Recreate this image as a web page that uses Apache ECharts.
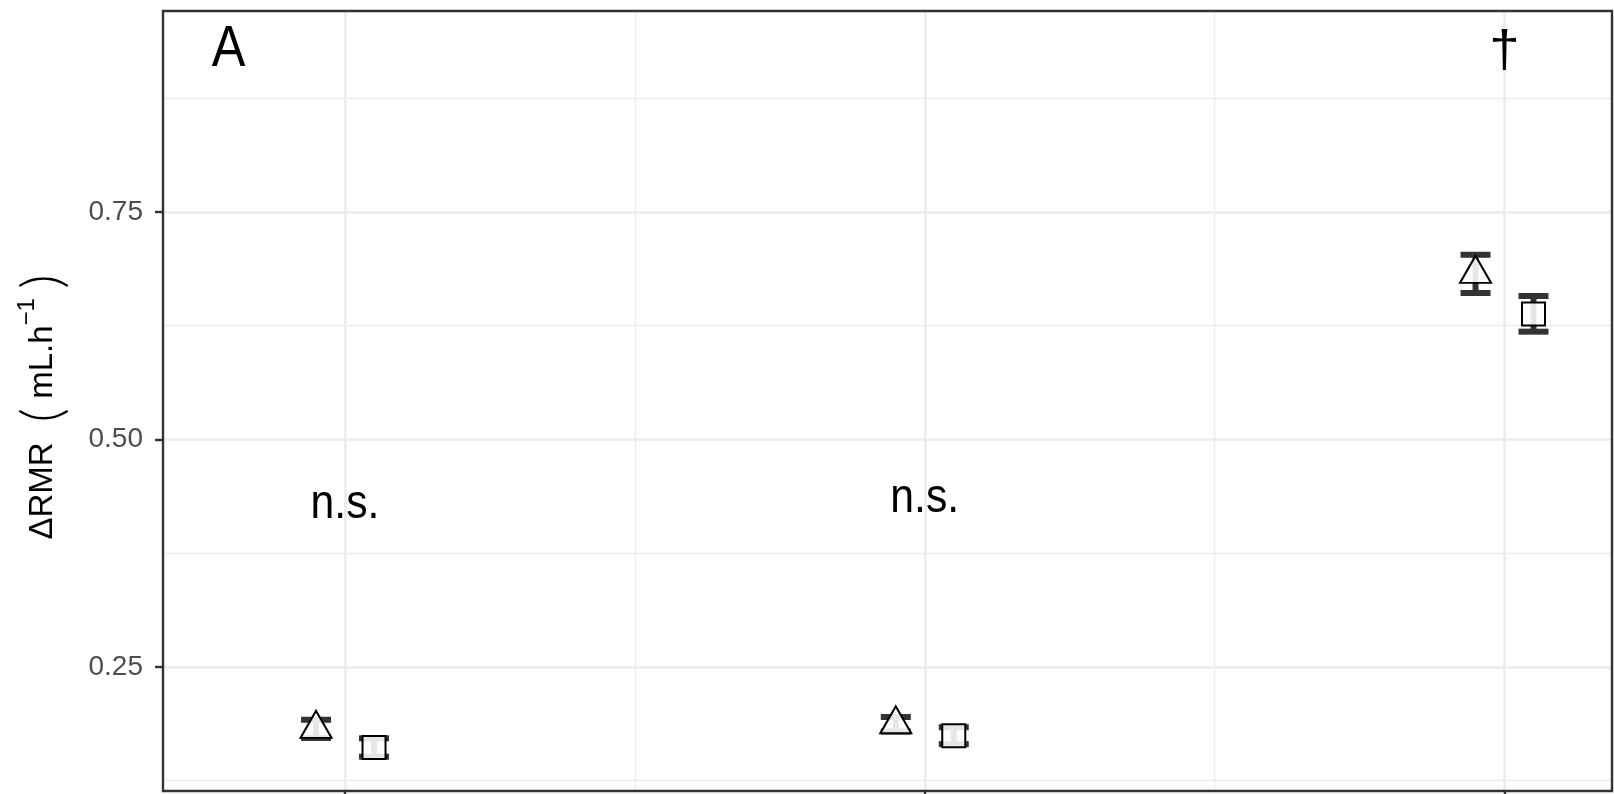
<!DOCTYPE html>
<html>
<head>
<meta charset="utf-8">
<script src="https://cdn.jsdelivr.net/npm/echarts@6/dist/echarts.min.js"></script>
<style>
  html, body { margin: 0; padding: 0; background: #ffffff; }
  #chart { width: 1614px; height: 794px; }
</style>
</head>
<body>
<div id="chart"></div>
<script>
// ---- data ----
const categories = ['1', '2', '3'];
const xPositions = [1, 2, 3];
// triangle group
const triMean  = [0.182, 0.187, 0.682];
const triLower = [0.172, 0.179, 0.661];
const triUpper = [0.192, 0.195, 0.703];
// square group
const sqMean   = [0.1615, 0.1745, 0.638];
const sqLower  = [0.1514, 0.1652, 0.6185];
const sqUpper  = [0.1716, 0.1838, 0.6577];
// axis breaks / labels
const yTickValues  = [0.25, 0.5, 0.75];
const yTickLabels  = ['0.25', '0.50', '0.75'];
const yMinorValues = [0.125, 0.375, 0.625, 0.875];
const xTickValues  = [1, 2, 3];
const xMinorValues = [1.5, 2.5];
const yRange = [0.1137, 0.9709];
const xRange = [0.686, 3.1854];
// annotations
const annoLabels = ['n.s.', 'n.s.', '\u2020'];
const annoX      = [1, 2, 3];
const annoY      = [0.4285, 0.435, 0.9255];
const panelTag   = 'A';
const panelTagX  = 0.799;
const panelTagY  = 0.9277;

// ---- chart ----
const FONT = 'Liberation Sans, Arial, Helvetica, sans-serif';
const DODGE = 0.05;
const chart = echarts.init(document.getElementById('chart'), null, { renderer: 'canvas' });

function errData(mean, lo, hi, off) {
  return xPositions.map((x, i) => [x + off, mean[i], lo[i], hi[i]]);
}
function ptData(mean, off) {
  return xPositions.map((x, i) => [x + off, mean[i]]);
}

function renderErr(params, api) {
  const x = api.value(0);
  const pLo = api.coord([x, api.value(2)]);
  const pHi = api.coord([x, api.value(3)]);
  const hw = 15;
  const st = { stroke: '#333333', lineWidth: 6, lineCap: 'butt' };
  return {
    type: 'group',
    children: [
      { type: 'line', shape: { x1: pLo[0], y1: pLo[1], x2: pHi[0], y2: pHi[1] }, style: st },
      { type: 'line', shape: { x1: pHi[0] - hw, y1: pHi[1], x2: pHi[0] + hw, y2: pHi[1] }, style: st },
      { type: 'line', shape: { x1: pLo[0] - hw, y1: pLo[1], x2: pLo[0] + hw, y2: pLo[1] }, style: st }
    ]
  };
}

// [x, y, text, fontSize, scaleX]
const annoData = annoLabels.map((t, i) => [annoX[i], annoY[i], t, t === '\u2020' ? 52 : 48, t === '\u2020' ? 1.05 : 0.89]);
annoData.push([panelTagX, panelTagY, panelTag, 58, 0.87]);

function renderText(params, api) {
  const p = api.coord([api.value(0), api.value(1)]);
  const d = annoData[params.dataIndex];
  return {
    type: 'text',
    x: p[0], y: p[1],
    scaleX: d[4],
    style: {
      text: d[2], fontSize: d[3], fontFamily: FONT, fill: '#000000',
      align: 'center', verticalAlign: 'middle'
    }
  };
}

const option = {
  animation: false,
  backgroundColor: '#ffffff',
  grid: {
    left: 163, right: 2, top: 11, bottom: 3,
    show: true, z: 3, borderColor: '#333333', borderWidth: 2.4,
    backgroundColor: 'transparent', containLabel: false
  },
  xAxis: [
    {
      type: 'value', min: xRange[0], max: xRange[1], position: 'bottom',
      axisLine: { show: false },
      axisTick: { show: true, length: 8, customValues: xTickValues, lineStyle: { color: '#333333', width: 2.4 } },
      axisLabel: { show: false, customValues: xTickValues },
      splitLine: { show: true, lineStyle: { color: '#EBEBEB', width: 2.6 } }
    },
    {
      type: 'value', min: xRange[0], max: xRange[1], position: 'top',
      axisLine: { show: false },
      axisTick: { show: false, customValues: xMinorValues },
      axisLabel: { show: false, customValues: xMinorValues },
      splitLine: { show: true, lineStyle: { color: '#EBEBEB', width: 1.3 } }
    }
  ],
  yAxis: [
    {
      type: 'value', min: yRange[0], max: yRange[1], position: 'left',
      axisLine: { show: false },
      axisTick: { show: true, length: 8, customValues: yTickValues, lineStyle: { color: '#333333', width: 2.4 } },
      axisLabel: {
        show: true, customValues: yTickValues, margin: 20,
        color: '#4D4D4D', fontSize: 28, fontFamily: FONT,
        formatter: (v) => { const i = yTickValues.findIndex(t => Math.abs(t - v) < 1e-9); return i >= 0 ? yTickLabels[i] : ''; }
      },
      splitLine: { show: true, lineStyle: { color: '#EBEBEB', width: 2.6 } },
      name: '{d|\u0394RMR}{sp|}{p|(}{t| mL.h}{s|\u22121}{t| }{p|)}{sp2|}',
      nameLocation: 'middle', nameRotate: 90, nameGap: 92,
      nameTextStyle: {
        color: '#000000', fontFamily: FONT,
        rich: {
          sp: { width: 20, fontSize: 20 },
          sp2: { width: 12, fontSize: 20 },
          d: { fontSize: 33, fontFamily: FONT, color: '#000' },
          t: { fontSize: 33, fontFamily: FONT, color: '#000' },
          s: { fontSize: 24, fontFamily: FONT, color: '#000', verticalAlign: 'top' },
          p: { fontSize: 56, fontFamily: 'Lato, Liberation Sans, sans-serif', fontWeight: 300, color: '#000' }
        }
      }
    },
    {
      type: 'value', min: yRange[0], max: yRange[1], position: 'right',
      axisLine: { show: false },
      axisTick: { show: false, customValues: yMinorValues },
      axisLabel: { show: false, customValues: yMinorValues },
      splitLine: { show: true, lineStyle: { color: '#EBEBEB', width: 1.3 } }
    }
  ],
  series: [
    { type: 'custom', name: 'err-tri', z: 4, xAxisIndex: 0, yAxisIndex: 0, renderItem: renderErr,
      data: errData(triMean, triLower, triUpper, -DODGE), encode: { x: 0, y: [1, 2, 3] } },
    { type: 'custom', name: 'err-sq', z: 4, xAxisIndex: 0, yAxisIndex: 0, renderItem: renderErr,
      data: errData(sqMean, sqLower, sqUpper, DODGE), encode: { x: 0, y: [1, 2, 3] } },
    { type: 'scatter', name: 'tri', z: 5, xAxisIndex: 0, yAxisIndex: 0,
      symbol: 'triangle', symbolSize: [31, 27], symbolOffset: [0, -4.5],
      itemStyle: { color: 'rgba(255,255,255,0.88)', borderColor: '#000000', borderWidth: 2, opacity: 1 },
      data: ptData(triMean, -DODGE) },
    { type: 'scatter', name: 'sq', z: 5, xAxisIndex: 0, yAxisIndex: 0,
      symbol: 'rect', symbolSize: 23,
      itemStyle: { color: 'rgba(255,255,255,0.88)', borderColor: '#000000', borderWidth: 2, opacity: 1 },
      data: ptData(sqMean, DODGE) },
    { type: 'custom', name: 'anno', z: 6, xAxisIndex: 0, yAxisIndex: 0, renderItem: renderText,
      data: annoData.map(d => [d[0], d[1]]), encode: { x: 0, y: 1 } }
  ]
};
chart.setOption(option);
</script>
</body>
</html>
